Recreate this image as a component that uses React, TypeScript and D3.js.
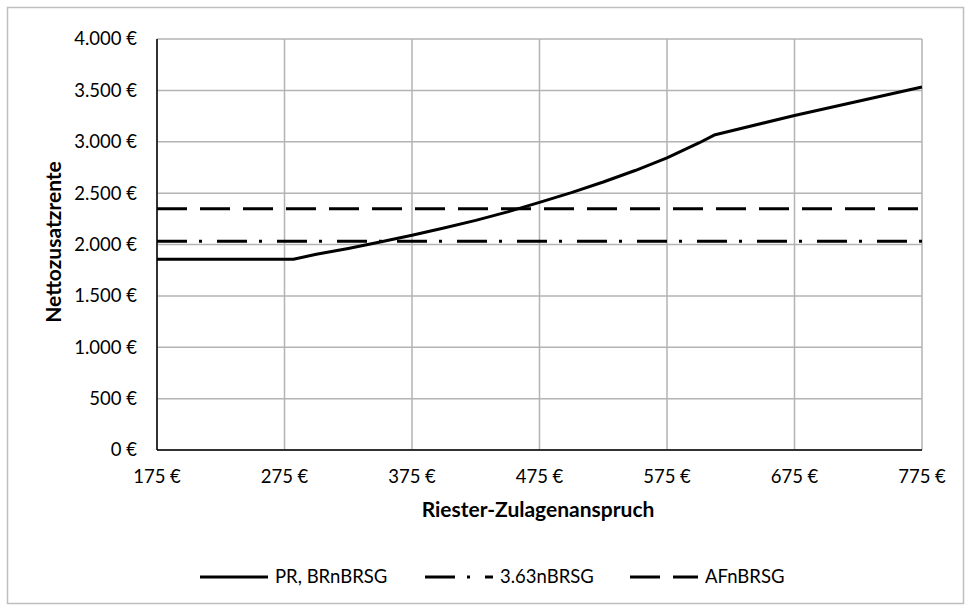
import React from "react";
import * as d3 from "d3";

const xValues = [175, 200, 225, 250, 275, 282, 300, 325, 350, 375, 400, 425, 450, 475, 500, 525, 550, 575, 600, 612, 675, 775];
const prValues = [1857, 1857, 1857, 1857, 1857, 1857, 1905, 1962, 2025, 2090, 2160, 2235, 2318, 2410, 2505, 2608, 2720, 2843, 2988, 3065, 3256, 3532];
const value363 = 2032;
const valueAF = 2348;
const xTicks = [175, 275, 375, 475, 575, 675, 775];
const yTicks = [0, 500, 1000, 1500, 2000, 2500, 3000, 3500, 4000];
const seriesNames = ["PR, BRnBRSG", "3.63nBRSG", "AFnBRSG"];

const W = 971;
const H = 610;
const FONT = "Lato, 'Noto Sans', sans-serif";

export default function App() {
  const x = d3.scaleLinear().domain([175, 775]).range([157, 922]);
  const y = d3.scaleLinear().domain([0, 4000]).range([450, 39]);
  const fmt = (v: number) => d3.format(",")(v).replace(/,/g, ".") + " €";

  const line = d3
    .line<[number, number]>()
    .x((d) => x(d[0]))
    .y((d) => y(d[1]));

  const prData: [number, number][] = xValues.map((v, i) => [v, prValues[i]]);
  const d363: [number, number][] = [[175, value363], [775, value363]];
  const dAF: [number, number][] = [[175, valueAF], [775, valueAF]];

  const dashAF = "30 13";
  const dash363 = "30 12 3 15";
  const legendY = 577;
  const legendItems = [
    { x0: 200, name: seriesNames[0], dash: undefined },
    { x0: 425, name: seriesNames[1], dash: dash363 },
    { x0: 630, name: seriesNames[2], dash: dashAF },
  ];

  return (
    <div style={{ position: "fixed", left: 0, top: 0 }}>
      <svg width={W} height={H} style={{ display: "block" }} fontFamily={FONT}>
        <rect x={0} y={0} width={W} height={H} fill="#fff" />
        <rect x={7.5} y={7.5} width={956} height={596} fill="none" stroke="#bfbfbf" strokeWidth={1.5} />
        {yTicks.map((t) => (
          <line key={"gy" + t} x1={x(175)} x2={x(775)} y1={y(t)} y2={y(t)} stroke="#b3b3b3" strokeWidth={1.5} />
        ))}
        {xTicks.map((t) => (
          <line key={"gx" + t} x1={x(t)} x2={x(t)} y1={y(0)} y2={y(4000)} stroke="#b3b3b3" strokeWidth={1.5} />
        ))}
        <line x1={x(175)} x2={x(175)} y1={y(0)} y2={y(4000)} stroke="#000" strokeWidth={1.5} />
        <line x1={x(175)} x2={x(775)} y1={y(0)} y2={y(0)} stroke="#000" strokeWidth={1.5} />
        {yTicks.map((t) => (
          <text key={"ty" + t} x={137} y={y(t)} dy="0.35em" textAnchor="end" fontSize={18.5} fill="#000">
            {fmt(t)}
          </text>
        ))}
        {xTicks.map((t) => (
          <text key={"tx" + t} x={x(t)} y={477} dy="0.35em" textAnchor="middle" fontSize={18.5} fill="#000">
            {fmt(t)}
          </text>
        ))}
        <text x={538} y={510} dy="0.35em" textAnchor="middle" fontSize={21} fontWeight="bold" fill="#000">
          Riester-Zulagenanspruch
        </text>
        <text
          transform="translate(54, 242) rotate(-90)"
          textAnchor="middle"
          dy="0.35em"
          fontSize={21}
          fontWeight="bold"
          fill="#000"
        >
          Nettozusatzrente
        </text>
        <path d={line(dAF) || ""} fill="none" stroke="#000" strokeWidth={3} strokeDasharray={dashAF} />
        <path d={line(d363) || ""} fill="none" stroke="#000" strokeWidth={3} strokeDasharray={dash363} />
        <path d={line(prData) || ""} fill="none" stroke="#000" strokeWidth={3} strokeLinejoin="round" />
        {legendItems.map((it) => (
          <g key={it.name}>
            <line x1={it.x0} x2={it.x0 + 68} y1={legendY} y2={legendY} stroke="#000" strokeWidth={3} strokeDasharray={it.dash} />
            <text x={it.x0 + 75} y={legendY} dy="0.35em" fontSize={18.5} fill="#000">
              {it.name}
            </text>
          </g>
        ))}
      </svg>
    </div>
  );
}
